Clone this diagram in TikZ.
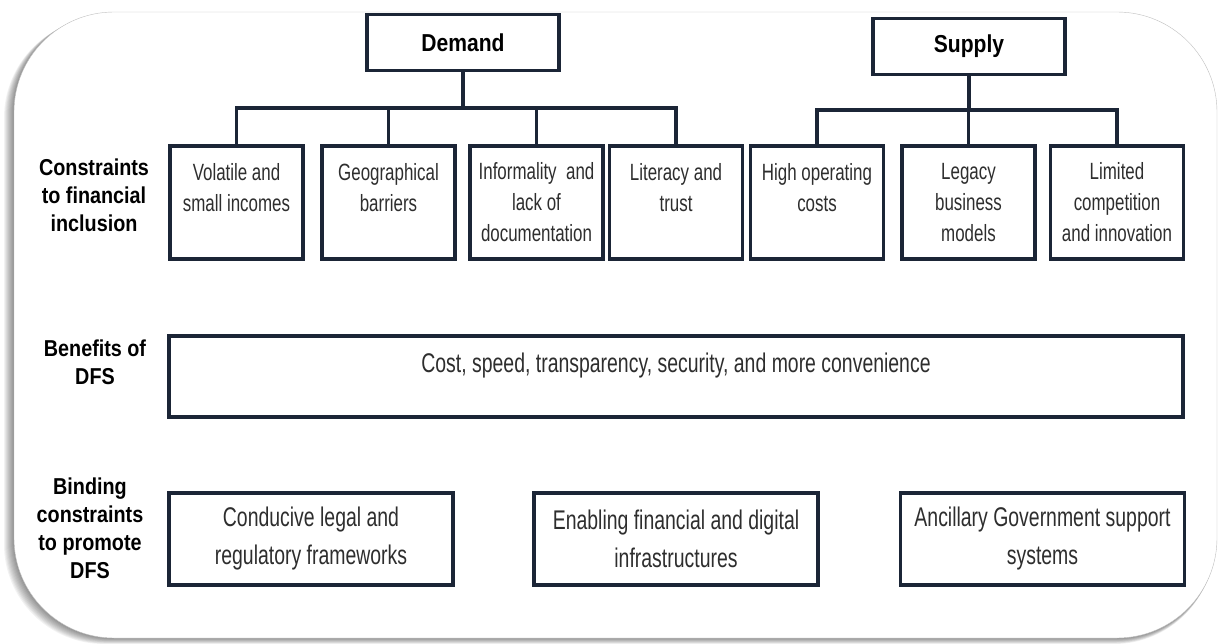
\documentclass[tikz,border=0pt]{standalone}
\usepackage{fontspec}
\setmainfont{Liberation Sans}[FakeStretch=0.72]
\newfontfamily\labelfont{Liberation Sans}[FakeStretch=0.86]
\usepackage{tikz}

\definecolor{navy}{HTML}{1B2536}
\definecolor{boxtext}{HTML}{2E2E2E}
\tikzset{
  frame/.style={rounded corners=100pt},
  box/.style={draw=navy, line width=3.2pt, fill=white, text=boxtext, align=center, inner sep=0pt},
  head/.style={box, text=black, font=\labelfont\bfseries\fontsize{24.5}{30}\selectfont, minimum width=192pt, minimum height=56pt},
  cons/.style={box, font=\fontsize{23.5}{31}\selectfont, minimum width=133pt, minimum height=113pt},
  wide/.style={box, minimum width=1014pt, minimum height=81pt},
  bind/.style={box, font=\fontsize{27}{38}\selectfont, minimum width=284pt, minimum height=92pt},
  rowlabel/.style={align=center, font=\labelfont\bfseries\fontsize{23}{28}\selectfont},
  link/.style={draw=navy, line width=3.2pt}
}

\begin{document}
\begin{tikzpicture}[x=1pt,y=-1pt]
    \useasboundingbox (0,0) rectangle (1221,644);
    \foreach \d in {1,...,10}
        \fill[black, opacity=0.05, frame] (14-\d,12+0.6*\d) rectangle (1217-0.3*\d,638+0.6*\d);
    \draw[black!25, fill=white, frame] (14,12) rectangle (1217,638);

    \node[head] (dem) at (463,42.5) {Demand};
    \node[head] (sup) at (969,46.5) {Supply};

    \node[cons] (c1) at (236.5,202.5) {Volatile and\\small incomes\\~};
    \node[cons] (c2) at (388.5,202.5) {Geographical\\barriers\\~};
    \node[cons] (c3) at (536.5,202.5) {Informality\ \ and\\lack of\\documentation};
    \node[cons] (c4) at (676,202.5) {Literacy and\\trust\\~};
    \node[cons] (c5) at (817,202.5) {High operating\\costs\\~};
    \node[cons] (c6) at (968.5,202.5) {Legacy\\business\\models};
    \node[cons] (c7) at (1117,202.5) {Limited\\competition\\and innovation};

    \node[wide] (ben) at (676,376.5) {};
    \node[font=\fontsize{27}{30}\selectfont, text=boxtext] (bentext) at (676,366) {Cost, speed, transparency, security, and more convenience};

    \node[bind] (b1) at (311,539) {Conducive legal and\\regulatory frameworks};
    \node[bind] (b2) at (676,539) {Enabling financial and digital\\infrastructures};
    \node[bind] (b3) at (1042.5,539) {Ancillary Government support\\systems};

    \node[rowlabel] (l1) at (94,195) {Constraints\\to financial\\inclusion};
    \node[rowlabel] (l2) at (95,362) {Benefits of\\DFS};
    \node[rowlabel] (l3) at (90,528) {Binding\\constraints\\to promote\\DFS};

    \coordinate (dbus) at (463,108);
    \coordinate (sbus) at (969,110);
    \draw[link] (dem) -- (dbus);
    \foreach \n in {c1,c2,c3,c4}
        \draw[link] (\n.north) |- (dbus);
    \draw[link] (sup) -- (sbus);
    \foreach \n in {c5,c6,c7}
        \draw[link] (\n.north) |- (sbus);
\end{tikzpicture}
\end{document}
